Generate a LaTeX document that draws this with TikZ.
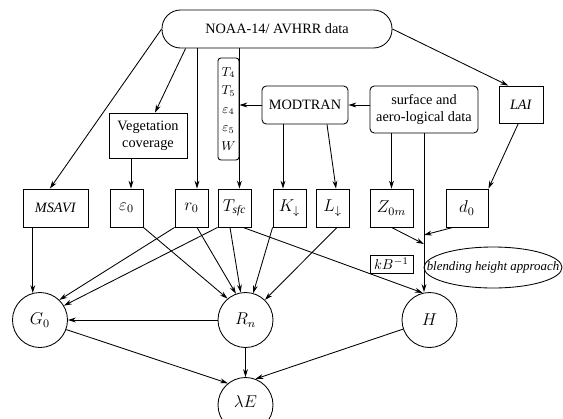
\documentclass[tikz,border=0pt]{standalone}
\usepackage{fontspec}
\setmainfont{Liberation Serif}
\usepackage{amsmath,amssymb}
\usepackage{tikz}
\usetikzlibrary{arrows.meta}
\usetikzlibrary{shapes.geometric}

\begin{document}
\begin{tikzpicture}[x=.7pt,y=-.7pt,line width=.6pt]
    \tikzstyle{box} = [draw,inner sep=1pt,minimum height=26.6pt]
    \tikzstyle{rbox} = [box,rounded corners=3pt,align=center]
    \tikzstyle{mbox} = [box,font=\large]
    \tikzstyle{circ} = [draw,circle,inner sep=0pt,minimum size=38.5pt,font=\large]
    \tikzstyle{arr} = [draw,-{Stealth[length=5.5pt,width=3.4pt]}]
    \useasboundingbox (0,0) rectangle (563,418);
    \clip (0,0) rectangle (563,418);
    %% sources
    \node [rbox,rounded corners=13pt,minimum width=161pt] (noaa) at (277,29) {NOAA-14/ AVHRR data};
    \node [box,align=center,minimum width=54.6pt,minimum height=31.5pt] (veg) at (148,135.5) {Vegetation\\coverage};
    \node [box,rounded corners=2pt,align=center,minimum width=14.7pt,minimum height=71.4pt,font=\small] (tbox) at (228.5,109)
      {$T_4$\\[2pt]$T_5$\\[2pt]$\varepsilon_4$\\[2pt]$\varepsilon_5$\\[2pt]$W$};
    \node [rbox,minimum width=60.2pt] (modtran) at (305,105) {MODTRAN};
    \node [rbox,minimum width=75.6pt,minimum height=32.9pt] (surf) at (424,109.5) {surface and\\aero-logical data};
    \node [box,minimum width=30.8pt,minimum height=25.9pt] (lai) at (521,104.5) {\textit{LAI}};
    %% parameters
    \node [box,minimum width=45.5pt] (msavi) at (55.5,208) {\textit{MSAVI}};
    \node [mbox,minimum width=23.1pt] (eps0) at (126.5,208) {$\varepsilon_0$};
    \node [mbox,minimum width=23.1pt] (r0) at (191.5,208) {$r_0$};
    \node [mbox,minimum width=23.1pt] (tsfc) at (234.5,208) {$T_{\mathit{sfc}}$};
    \node [mbox,minimum width=23.1pt] (kdn) at (289.5,208) {$K_\downarrow$};
    \node [mbox,minimum width=23.1pt] (ldn) at (332.5,208) {$L_\downarrow$};
    \node [mbox,minimum width=30.1pt] (zom) at (391.5,208) {$Z_{0m}$};
    \node [mbox,minimum width=29.4pt] (d0) at (467,208) {$d_0$};
    \node [box,minimum width=30.1pt,minimum height=12.6pt] (kb) at (391.5,264) {$kB^{-1}$};
    \node [inner sep=0pt,font=\small] (blend) at (493,267.5) {\textit{blending height approach}};
    \draw (blend.center) ellipse [x radius=48.3pt, y radius=14.35pt];
    %% fluxes
    \node [circ] (g0) at (40,320) {$G_0$};
    \node [circ] (rn) at (245.5,320) {$R_n$};
    \node [circ] (h) at (429.5,320) {$H$};
    \node [circ] (lame) at (245.5,405) {\raisebox{5pt}{$\lambda E$}};
    %%
    \coordinate (r0in) at ([xshift=3.85pt]r0.north);
    \coordinate (e0in) at ([xshift=3.15pt]eps0.north);
    \coordinate (kin) at ([xshift=-4.55pt]kdn.north);
    \coordinate (jd) at (424,235);
    \coordinate (jz) at (424,244);
    %% top part
    \path [arr] (noaa.west) to (msavi.106);
    \path [arr] (noaa.192) to (veg.73);
    \path [arr] (r0in |- noaa.south) to (r0in);
    \path [arr] (tbox.east |- noaa.south) to (tbox.east |- tsfc.north);
    \path [arr] (noaa.east) to (lai.124);
    \path [arr] (e0in |- veg.south) to (e0in);
    \path [arr] (modtran.west) to (modtran.west -| tbox.east);
    \path [arr] (surf.west |- modtran.east) to (modtran.east);
    \path [arr] (kin |- modtran.south) to (kin);
    \path [arr] ([xshift=15.4pt]modtran.south) to ([xshift=2.45pt]ldn.north);
    \path [arr] (zom.north |- surf.south) to (zom.north);
    \path [arr] (lai.262) to (d0.north east);
    \path [arr] (surf.south) to (surf.south |- h.north);
    \path [arr] (zom.south) to (jz);
    \path [arr] (d0.234) to (jd);
    %% bottom part
    \path [arr] (msavi.south -| g0.105) to (g0.105);
    \path [arr] (eps0.south east) to (rn.130);
    \path [arr] (r0.south west) to (g0.46);
    \path [arr] ([xshift=3.85pt]r0.south) to (rn.110);
    \path [arr] (tsfc.south west) to (g0.31);
    \path [arr] ([xshift=-3.15pt]tsfc.south) to (rn.100);
    \path [arr] ([xshift=6pt]tsfc.south) to (h.104);
    \path [arr] (kdn.south west) to (rn.74);
    \path [arr] ([xshift=3.15pt]ldn.south) to (rn.46);
    \path [arr] (rn.west) to (g0.east);
    \path [arr] (g0.340) to (lame.129);
    \path [arr] (rn.south) to (lame.north);
    \path [arr] (h.199) to (lame.69);
\end{tikzpicture}
\end{document}
